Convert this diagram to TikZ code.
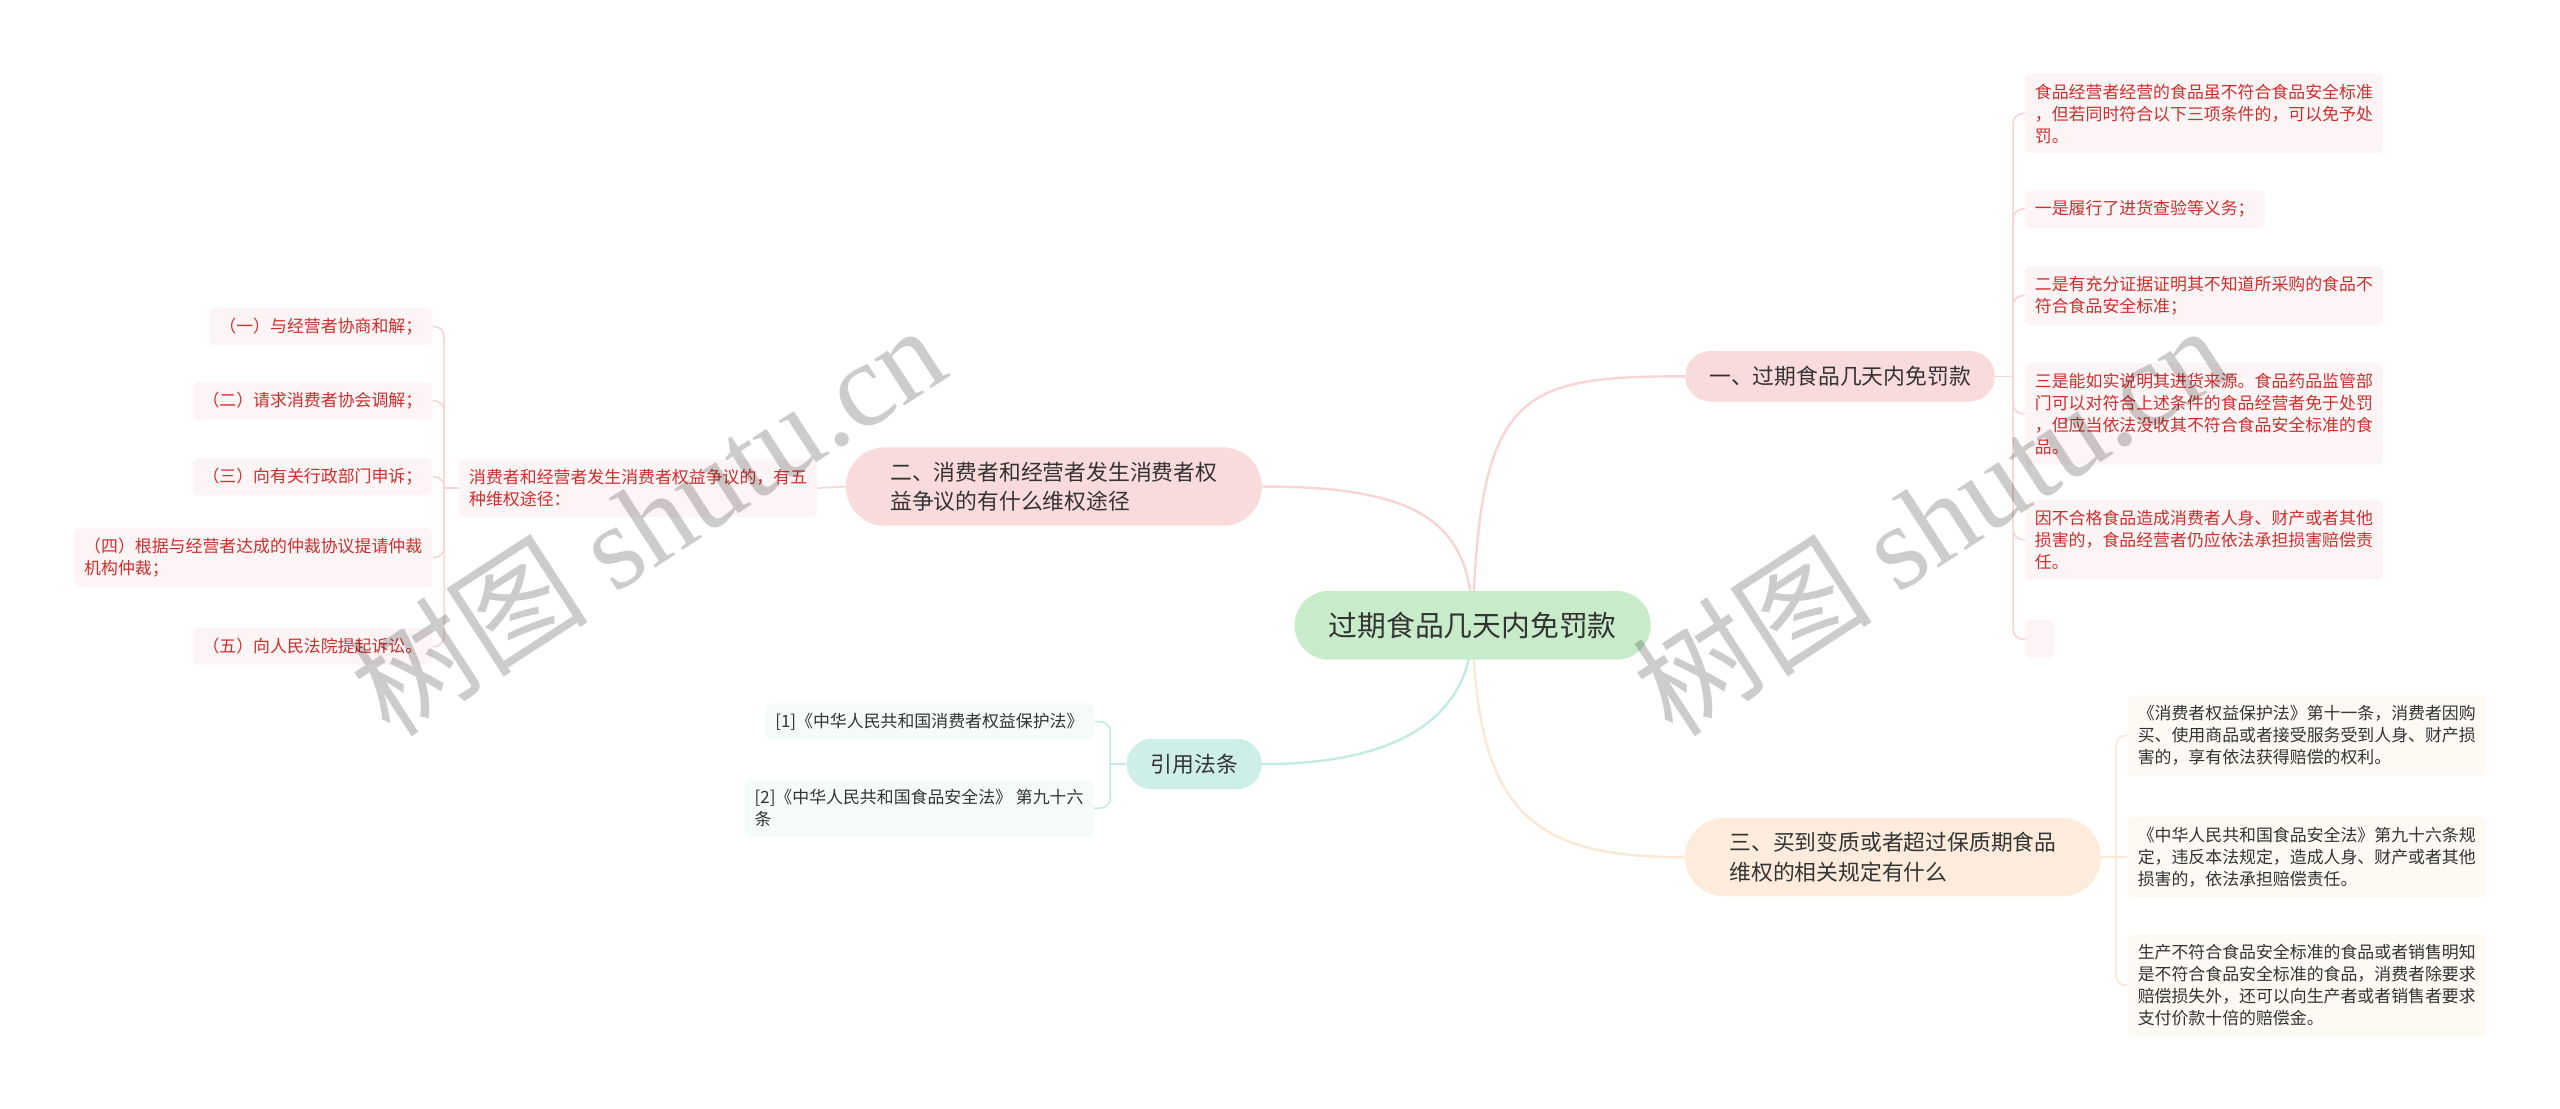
\documentclass[tikz,border=0pt]{standalone}
\usepackage{fontspec}
\setmainfont{Noto Sans CJK SC}
\newfontfamily\wmfont{Liberation Serif}
\usepackage{tikz}
\usetikzlibrary{positioning,calc}
\definecolor{rootfill}{RGB}{200,236,202}
\definecolor{pinkfill}{RGB}{250,219,219}
\definecolor{tealfill}{RGB}{206,238,232}
\definecolor{peachfill}{RGB}{253,236,219}
\definecolor{txtgray}{RGB}{51,51,51}
\definecolor{leafred}{RGB}{206,46,46}
\definecolor{redfill}{RGB}{253,245,245}
\definecolor{tealleaf}{RGB}{245,251,250}
\definecolor{creamleaf}{RGB}{253,250,243}
\definecolor{pinkline}{RGB}{248,212,212}
\definecolor{tealline}{RGB}{194,235,228}
\definecolor{peachline}{RGB}{252,232,210}
\pgfdeclarelayer{bg}
\pgfsetlayers{bg,main}

\begin{document}
\begin{tikzpicture}[x=0.8163pt,y=-0.8163pt]
\tikzstyle{root}=[rectangle, rounded corners=17pt, fill = rootfill, text = txtgray, minimum height = 34.3pt, inner xsep = 17pt, font=\fontsize{14.4}{17}\selectfont]
\tikzstyle{branch}=[rectangle, rounded corners=12.6pt, text = txtgray, minimum height = 25.3pt, inner xsep = 12pt, font=\fontsize{10.9}{14.7}\selectfont]
\tikzstyle{bigbranch}=[branch, rounded corners=19.6pt, minimum height = 39.2pt, minimum width = 208pt, align=left]
\tikzstyle{leaf}=[rectangle, rounded corners=3pt, inner xsep = 5pt, inner ysep = 5pt, align=left, font=\fontsize{8.45}{11}\selectfont]
\tikzstyle{redleaf}=[leaf, fill = redfill, text = leafred]
\tikzstyle{citeleaf}=[leaf, fill = tealleaf, text = txtgray]
\tikzstyle{lawleaf}=[leaf, fill = creamleaf, text = txtgray]
\tikzstyle{mainline}=[line width = 1.2pt]
\tikzstyle{subline}=[line width = 0.8pt]
\tikzstyle{wm}=[text = black, opacity = 0.2, rotate = 33, font=\fontsize{60}{64}\selectfont]
  \useasboundingbox (0,0) rectangle (1568,679);
  \node[root] (root) at (902,383) {过期食品几天内免罚款};
  \node[branch, fill = pinkfill] (B1) at (1127,230.5) {一、过期食品几天内免罚款};
  \node[bigbranch, fill = pinkfill] (B2) at (645.5,298) {二、消费者和经营者发生消费者权\\益争议的有什么维权途径};
  \node[branch, fill = tealfill] (B3) at (731.5,468) {引用法条};
  \node[bigbranch, fill = peachfill] (B4) at (1159.5,525) {三、买到变质或者超过保质期食品\\维权的相关规定有什么};
  \node[redleaf, anchor=west] (L1) at (1240,69.5) {食品经营者经营的食品虽不符合食品安全标准\\，但若同时符合以下三项条件的，可以免予处\\罚。};
  \node[redleaf, anchor=west] (L2) at (1240,128) {一是履行了进货查验等义务；};
  \node[redleaf, anchor=west] (L3) at (1240,181) {二是有充分证据证明其不知道所采购的食品不\\符合食品安全标准；};
  \node[redleaf, anchor=west] (L4) at (1240,253.5) {三是能如实说明其进货来源。食品药品监管部\\门可以对符合上述条件的食品经营者免于处罚\\，但应当依法没收其不符合食品安全标准的食\\品。};
  \node[redleaf, anchor=west] (L5) at (1240,330.5) {因不合格食品造成消费者人身、财产或者其他\\损害的，食品经营者仍应依法承担损害赔偿责\\任。};
  \node[redleaf, anchor=west, minimum width = 14.7pt, minimum height = 18.8pt] (L6) at (1240,391.5) {};
  \node[redleaf, anchor=west] (M) at (281,299) {消费者和经营者发生消费者权益争议的，有五\\种维权途径：};
  \node[redleaf, anchor=east] (E1) at (265,200) {（一）与经营者协商和解；};
  \node[redleaf, anchor=east] (E2) at (265,245.5) {（二）请求消费者协会调解；};
  \node[redleaf, anchor=east] (E3) at (265,292) {（三）向有关行政部门申诉；};
  \node[redleaf, anchor=east] (E4) at (265,341.5) {（四）根据与经营者达成的仲裁协议提请仲裁\\机构仲裁；};
  \node[redleaf, anchor=east] (E5) at (265,396) {（五）向人民法院提起诉讼。};
  \node[citeleaf, anchor=east] (C1) at (670,442) {[1]《中华人民共和国消费者权益保护法》};
  \node[citeleaf, anchor=east] (C2) at (670,495) {[2]《中华人民共和国食品安全法》 第九十六\\条};
  \node[lawleaf, anchor=west] (R1) at (1303,450.5) {《消费者权益保护法》第十一条，消费者因购\\买、使用商品或者接受服务受到人身、财产损\\害的，享有依法获得赔偿的权利。};
  \node[lawleaf, anchor=west] (R2) at (1303,525) {《中华人民共和国食品安全法》第九十六条规\\定，违反本法规定，造成人身、财产或者其他\\损害的，依法承担赔偿责任。};
  \node[lawleaf, anchor=west] (R3) at (1303,603.5) {生产不符合食品安全标准的食品或者销售明知\\是不符合食品安全标准的食品，消费者除要求\\赔偿损失外，还可以向生产者或者销售者要求\\支付价款十倍的赔偿金。};
  \coordinate (t1) at (1233,230.5);
  \coordinate (t2) at (272,299);
  \coordinate (t3) at (680,468);
  \coordinate (t4) at (1296,525);
  \begin{pgfonlayer}{bg}
  \fill[white] (0,0) rectangle (1568,679);
  \draw[mainline, pinkline] (root.center) .. controls (906,240) and (930,230.5) .. (B1.west);
  \draw[mainline, pinkline] (root.center) .. controls (902,320) and (870,298) .. (B2.east);
  \draw[mainline, tealline] (root.center) .. controls (902,430) and (870,468) .. (B3.east);
  \draw[mainline, peachline] (root.center) .. controls (904,500) and (940,525) .. (B4.west);
  \path (B1.east) edge [subline, pinkline] (t1)
        (M.west) edge [subline, pinkline] (t2)
        (M.east) edge [subline, pinkline] (B2.west)
        (B3.west) edge [subline, tealline] (t3)
        (B4.east) edge [subline, peachline] (t4);
  \draw[subline, pinkline, rounded corners=5pt] (t1) |- (L1.west);
  \draw[subline, pinkline, rounded corners=5pt] (t1) |- (L2.west);
  \draw[subline, pinkline, rounded corners=5pt] (t1) |- (L3.west);
  \draw[subline, pinkline, rounded corners=5pt] (t1) |- (L4.west);
  \draw[subline, pinkline, rounded corners=5pt] (t1) |- (L5.west);
  \draw[subline, pinkline, rounded corners=5pt] (t1) |- (L6.west);
  \draw[subline, pinkline, rounded corners=5pt] (t2) |- (E1.east);
  \draw[subline, pinkline, rounded corners=5pt] (t2) |- (E2.east);
  \draw[subline, pinkline, rounded corners=5pt] (t2) |- (E3.east);
  \draw[subline, pinkline, rounded corners=5pt] (t2) |- (E4.east);
  \draw[subline, pinkline, rounded corners=5pt] (t2) |- (E5.east);
  \draw[subline, tealline, rounded corners=5pt] (t3) |- (C1.east);
  \draw[subline, tealline, rounded corners=5pt] (t3) |- (C2.east);
  \draw[subline, peachline, rounded corners=5pt] (t4) |- (R1.west);
  \draw[subline, peachline] (t4) -- (R2.west);
  \draw[subline, peachline, rounded corners=5pt] (t4) |- (R3.west);
  \end{pgfonlayer}
  \node[wm] (wm1) at (396,318) {树图 {\wmfont shutu.cn}};
  \node[wm] (wm2) at (1182,318) {树图 {\wmfont shutu.cn}};
\end{tikzpicture}
\end{document}
